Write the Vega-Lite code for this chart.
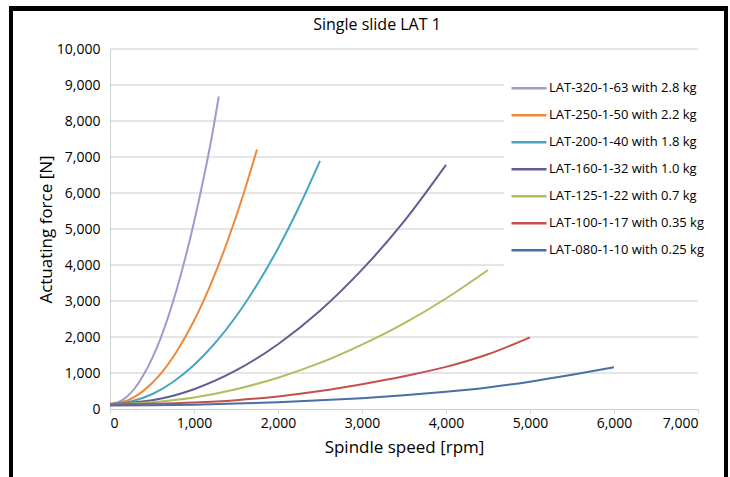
{
  "$schema": "https://vega.github.io/schema/vega-lite/v6.json",
  "width": 588,
  "height": 360,
  "autosize": {"type": "none"},
  "padding": {"left": 110, "top": 49, "right": 32, "bottom": 68},
  "background": "white",
  "title": {"text": "Single slide LAT 1", "fontSize": 16, "font": "Open Sans", "fontWeight": "normal", "color": "#000000", "anchor": "middle", "frame": "group", "dx": -27, "offset": 0, "dy": 26},
  "config": {"view": {"stroke": null, "fill": null}, "font": "Open Sans"},
  "datasets": {
    "gridvalues": [
      {"force": 1000}, {"force": 2000}, {"force": 3000}, {"force": 4000}, {"force": 5000},
      {"force": 6000}, {"force": 7000}, {"force": 8000}, {"force": 9000}, {"force": 10000}
    ]
  },
  "data": {"values": [
    {"series": "LAT-320-1-63 with 2.8 kg", "rpm": 0, "force": 140},
    {"series": "LAT-320-1-63 with 2.8 kg", "rpm": 100, "force": 190},
    {"series": "LAT-320-1-63 with 2.8 kg", "rpm": 200, "force": 340},
    {"series": "LAT-320-1-63 with 2.8 kg", "rpm": 300, "force": 590},
    {"series": "LAT-320-1-63 with 2.8 kg", "rpm": 400, "force": 950},
    {"series": "LAT-320-1-63 with 2.8 kg", "rpm": 500, "force": 1400},
    {"series": "LAT-320-1-63 with 2.8 kg", "rpm": 600, "force": 1950},
    {"series": "LAT-320-1-63 with 2.8 kg", "rpm": 700, "force": 2610},
    {"series": "LAT-320-1-63 with 2.8 kg", "rpm": 800, "force": 3370},
    {"series": "LAT-320-1-63 with 2.8 kg", "rpm": 900, "force": 4230},
    {"series": "LAT-320-1-63 with 2.8 kg", "rpm": 1000, "force": 5190},
    {"series": "LAT-320-1-63 with 2.8 kg", "rpm": 1100, "force": 6250},
    {"series": "LAT-320-1-63 with 2.8 kg", "rpm": 1200, "force": 7410},
    {"series": "LAT-320-1-63 with 2.8 kg", "rpm": 1295, "force": 8680},
    {"series": "LAT-250-1-50 with 2.2 kg", "rpm": 0, "force": 140},
    {"series": "LAT-250-1-50 with 2.2 kg", "rpm": 200, "force": 230},
    {"series": "LAT-250-1-50 with 2.2 kg", "rpm": 400, "force": 510},
    {"series": "LAT-250-1-50 with 2.2 kg", "rpm": 600, "force": 970},
    {"series": "LAT-250-1-50 with 2.2 kg", "rpm": 800, "force": 1620},
    {"series": "LAT-250-1-50 with 2.2 kg", "rpm": 1000, "force": 2450},
    {"series": "LAT-250-1-50 with 2.2 kg", "rpm": 1200, "force": 3470},
    {"series": "LAT-250-1-50 with 2.2 kg", "rpm": 1400, "force": 4670},
    {"series": "LAT-250-1-50 with 2.2 kg", "rpm": 1600, "force": 6050},
    {"series": "LAT-250-1-50 with 2.2 kg", "rpm": 1750, "force": 7210},
    {"series": "LAT-200-1-40 with 1.8 kg", "rpm": 0, "force": 140},
    {"series": "LAT-200-1-40 with 1.8 kg", "rpm": 250, "force": 210},
    {"series": "LAT-200-1-40 with 1.8 kg", "rpm": 500, "force": 410},
    {"series": "LAT-200-1-40 with 1.8 kg", "rpm": 750, "force": 750},
    {"series": "LAT-200-1-40 with 1.8 kg", "rpm": 1000, "force": 1220},
    {"series": "LAT-200-1-40 with 1.8 kg", "rpm": 1250, "force": 1830},
    {"series": "LAT-200-1-40 with 1.8 kg", "rpm": 1500, "force": 2570},
    {"series": "LAT-200-1-40 with 1.8 kg", "rpm": 1750, "force": 3450},
    {"series": "LAT-200-1-40 with 1.8 kg", "rpm": 2000, "force": 4460},
    {"series": "LAT-200-1-40 with 1.8 kg", "rpm": 2250, "force": 5610},
    {"series": "LAT-200-1-40 with 1.8 kg", "rpm": 2500, "force": 6890},
    {"series": "LAT-160-1-32 with 1.0 kg", "rpm": 0, "force": 140},
    {"series": "LAT-160-1-32 with 1.0 kg", "rpm": 500, "force": 240},
    {"series": "LAT-160-1-32 with 1.0 kg", "rpm": 1000, "force": 550},
    {"series": "LAT-160-1-32 with 1.0 kg", "rpm": 1500, "force": 1070},
    {"series": "LAT-160-1-32 with 1.0 kg", "rpm": 2000, "force": 1800},
    {"series": "LAT-160-1-32 with 1.0 kg", "rpm": 2500, "force": 2730},
    {"series": "LAT-160-1-32 with 1.0 kg", "rpm": 3000, "force": 3870},
    {"series": "LAT-160-1-32 with 1.0 kg", "rpm": 3500, "force": 5210},
    {"series": "LAT-160-1-32 with 1.0 kg", "rpm": 4000, "force": 6780},
    {"series": "LAT-125-1-22 with 0.7 kg", "rpm": 0, "force": 140},
    {"series": "LAT-125-1-22 with 0.7 kg", "rpm": 500, "force": 190},
    {"series": "LAT-125-1-22 with 0.7 kg", "rpm": 1000, "force": 320},
    {"series": "LAT-125-1-22 with 0.7 kg", "rpm": 1500, "force": 550},
    {"series": "LAT-125-1-22 with 0.7 kg", "rpm": 2000, "force": 870},
    {"series": "LAT-125-1-22 with 0.7 kg", "rpm": 2500, "force": 1280},
    {"series": "LAT-125-1-22 with 0.7 kg", "rpm": 3000, "force": 1790},
    {"series": "LAT-125-1-22 with 0.7 kg", "rpm": 3500, "force": 2380},
    {"series": "LAT-125-1-22 with 0.7 kg", "rpm": 4000, "force": 3070},
    {"series": "LAT-125-1-22 with 0.7 kg", "rpm": 4500, "force": 3860},
    {"series": "LAT-100-1-17 with 0.35 kg", "rpm": 0, "force": 130},
    {"series": "LAT-100-1-17 with 0.35 kg", "rpm": 500, "force": 145},
    {"series": "LAT-100-1-17 with 0.35 kg", "rpm": 1000, "force": 180},
    {"series": "LAT-100-1-17 with 0.35 kg", "rpm": 1500, "force": 245},
    {"series": "LAT-100-1-17 with 0.35 kg", "rpm": 2000, "force": 350},
    {"series": "LAT-100-1-17 with 0.35 kg", "rpm": 2500, "force": 500},
    {"series": "LAT-100-1-17 with 0.35 kg", "rpm": 3000, "force": 690},
    {"series": "LAT-100-1-17 with 0.35 kg", "rpm": 3500, "force": 910},
    {"series": "LAT-100-1-17 with 0.35 kg", "rpm": 4000, "force": 1170},
    {"series": "LAT-100-1-17 with 0.35 kg", "rpm": 4500, "force": 1520},
    {"series": "LAT-100-1-17 with 0.35 kg", "rpm": 5000, "force": 1990},
    {"series": "LAT-080-1-10 with 0.25 kg", "rpm": 0, "force": 100},
    {"series": "LAT-080-1-10 with 0.25 kg", "rpm": 500, "force": 105},
    {"series": "LAT-080-1-10 with 0.25 kg", "rpm": 1000, "force": 120},
    {"series": "LAT-080-1-10 with 0.25 kg", "rpm": 1500, "force": 150},
    {"series": "LAT-080-1-10 with 0.25 kg", "rpm": 2000, "force": 190},
    {"series": "LAT-080-1-10 with 0.25 kg", "rpm": 2500, "force": 240},
    {"series": "LAT-080-1-10 with 0.25 kg", "rpm": 3000, "force": 300},
    {"series": "LAT-080-1-10 with 0.25 kg", "rpm": 3500, "force": 380},
    {"series": "LAT-080-1-10 with 0.25 kg", "rpm": 4000, "force": 480},
    {"series": "LAT-080-1-10 with 0.25 kg", "rpm": 4500, "force": 600},
    {"series": "LAT-080-1-10 with 0.25 kg", "rpm": 5000, "force": 760},
    {"series": "LAT-080-1-10 with 0.25 kg", "rpm": 5500, "force": 950},
    {"series": "LAT-080-1-10 with 0.25 kg", "rpm": 6000, "force": 1160}
  ]},
  "resolve": {"axis": {"x": "independent", "y": "independent"}},
  "layer": [
    {
      "data": {"name": "gridvalues"},
      "mark": {"type": "rule", "color": "#cccccc", "strokeWidth": 1},
      "encoding": {
        "y": {"field": "force", "type": "quantitative", "axis": null, "scale": {"domain": [0, 10000], "nice": false, "zero": false}}
      }
    },
    {
      "mark": {"type": "line", "strokeWidth": 2, "interpolate": "monotone"},
      "encoding": {
        "x": {
          "field": "rpm", "type": "quantitative",
          "scale": {"domain": [0, 7000], "nice": false, "zero": false},
          "axis": {
            "title": "Spindle speed [rpm]",
            "values": [0, 1000, 2000, 3000, 4000, 5000, 6000, 7000],
            "labelExpr": "datum.value == 0 ? '0' : (datum.value / 1000) + ',000'",
            "grid": false,
            "domain": true, "domainColor": "#cccccc",
            "ticks": true, "tickColor": "#d4d4d4", "tickSize": 4,
            "labelPadding": 3, "labelFontSize": 14, "labelColor": "#000000", "labelFont": "Open Sans",
            "titleFontSize": 17, "titleFontWeight": "normal", "titleColor": "#000000", "titleFont": "Open Sans", "titlePadding": 9
          }
        },
        "y": {
          "field": "force", "type": "quantitative",
          "scale": {"domain": [0, 10000], "nice": false, "zero": false},
          "axis": {
            "title": "Actuating force [N]",
            "values": [0, 1000, 2000, 3000, 4000, 5000, 6000, 7000, 8000, 9000, 10000],
            "labelExpr": "datum.value == 0 ? '0' : (datum.value / 1000) + ',000'",
            "grid": false,
            "domain": true, "domainColor": "#d4d4d4",
            "ticks": false,
            "labelPadding": 10, "labelFontSize": 14, "labelColor": "#000000", "labelFont": "Open Sans",
            "titleFontSize": 17, "titleFontWeight": "normal", "titleColor": "#000000", "titleFont": "Open Sans", "titlePadding": 1
          }
        },
        "color": {
          "field": "series", "type": "nominal",
          "scale": {
            "domain": ["LAT-320-1-63 with 2.8 kg", "LAT-250-1-50 with 2.2 kg", "LAT-200-1-40 with 1.8 kg", "LAT-160-1-32 with 1.0 kg", "LAT-125-1-22 with 0.7 kg", "LAT-100-1-17 with 0.35 kg", "LAT-080-1-10 with 0.25 kg"],
            "range": ["#9c9ccc", "#f0883a", "#45a5c2", "#625d92", "#a9c05c", "#c4504c", "#4a6ea8"]
          },
          "legend": {
            "orient": "none", "legendX": 394, "legendY": 20,
            "title": null,
            "symbolType": "stroke", "symbolSize": 1225, "symbolStrokeWidth": 2.5,
            "clipHeight": 26.7, "rowPadding": 0, "padding": 6,
            "fillColor": "white", "zindex": 2,
            "labelFontSize": 13, "labelFont": "Open Sans", "labelColor": "#000000", "labelOffset": 1, "labelLimit": 300
          }
        }
      }
    },
    {
      "mark": {"type": "rect", "fill": null, "stroke": "#000000", "strokeWidth": 3.5, "clip": false},
      "encoding": {
        "x": {"datum": -1179, "type": "quantitative", "axis": null},
        "x2": {"datum": 7333},
        "y": {"datum": 11125, "type": "quantitative", "axis": null},
        "y2": {"datum": -1972}
      }
    }
  ]
}
